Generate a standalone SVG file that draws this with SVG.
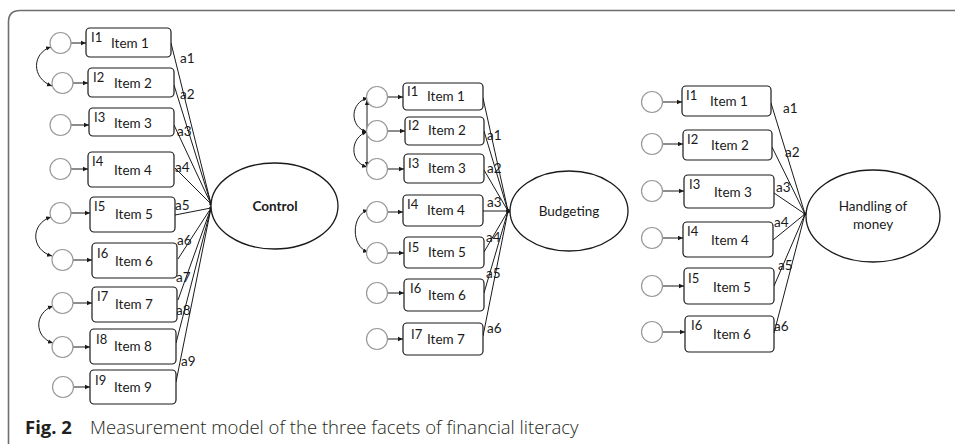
<svg xmlns="http://www.w3.org/2000/svg" width="955" height="444" viewBox="0 0 955 444">
<style>
.box{fill:#fff;stroke:#1a1a1a;stroke-width:1.2}
.err{fill:#fff;stroke:#999;stroke-width:1.2}
.lat{fill:#fff;stroke:#1a1a1a;stroke-width:1.3}
.ln{fill:none;stroke:#1a1a1a;stroke-width:1}
.t{font-family:Lato,"Liberation Sans",sans-serif;font-size:13.5px;fill:#1a1a1a}
.s{font-family:Lato,"Liberation Sans",sans-serif;font-size:13px;fill:#1a1a1a}
.m{text-anchor:middle}
.cap{font-family:"Open Sans","Liberation Sans",sans-serif;font-size:18.5px;fill:#231f20}
</style>
<defs>
<marker id="ah" markerUnits="userSpaceOnUse" markerWidth="6" markerHeight="6" refX="5" refY="3" orient="auto-start-reverse"><path d="M0,0.8 L5,3 L0,5.2 z" fill="#1a1a1a"/></marker>
</defs>
<path d="M8.5,444 V22 Q8.5,10.5 20,10.5 H955" fill="none" stroke="#6e6e6e" stroke-width="1.6"/>

<g id="connectors">
<path class="ln" marker-end="url(#ah)" d="M71,43 H86"/>
<path class="ln" marker-end="url(#ah)" d="M73,83 H88"/>
<path class="ln" marker-end="url(#ah)" d="M71,125 H89"/>
<path class="ln" marker-end="url(#ah)" d="M71,169 H88"/>
<path class="ln" marker-end="url(#ah)" d="M71,213 H90"/>
<path class="ln" marker-end="url(#ah)" d="M73,260 H92"/>
<path class="ln" marker-end="url(#ah)" d="M73,303 H92"/>
<path class="ln" marker-end="url(#ah)" d="M73,347 H90"/>
<path class="ln" marker-end="url(#ah)" d="M73,387 H90"/>
<path class="ln" marker-start="url(#ah)" marker-end="url(#ah)" d="M51,47 C32,53 31,78 52,86"/>
<path class="ln" marker-start="url(#ah)" marker-end="url(#ah)" d="M51,217 C30,224 31,250 52,256"/>
<path class="ln" marker-start="url(#ah)" marker-end="url(#ah)" d="M53,306 C34,313 34,337 53,343"/>
<path class="ln" d="M171,43 L211,204"/>
<path class="ln" d="M174,85 L211,204"/>
<path class="ln" d="M174,125 L211,204"/>
<path class="ln" d="M175,168 L211,204"/>
<path class="ln" d="M175,215 L211,208"/>
<path class="ln" d="M178,259 L211,208"/>
<path class="ln" d="M178,300 L211,208"/>
<path class="ln" d="M176,343 L211,208"/>
<path class="ln" d="M176,382 L211,208"/>
<circle cx="211" cy="204" r="1.8" fill="#1a1a1a"/>
<circle cx="211" cy="208" r="1.8" fill="#1a1a1a"/>
<text class="t" x="180" y="63">a1</text>
<text class="t" x="180" y="99">a2</text>
<text class="t" x="177" y="136">a3</text>
<text class="t" x="175" y="172">a4</text>
<text class="t" x="175" y="210">a5</text>
<text class="t" x="177" y="245">a6</text>
<text class="t" x="176" y="282">a7</text>
<text class="t" x="176" y="315">a8</text>
<text class="t" x="181" y="366">a9</text>

<path class="ln" marker-end="url(#ah)" d="M387.5,97 H403"/>
<path class="ln" marker-end="url(#ah)" d="M387.5,131 H405"/>
<path class="ln" marker-end="url(#ah)" d="M387.5,169 H404"/>
<path class="ln" marker-end="url(#ah)" d="M387.5,212 H403"/>
<path class="ln" marker-end="url(#ah)" d="M387.5,253 H404"/>
<path class="ln" marker-end="url(#ah)" d="M387.5,293 H404"/>
<path class="ln" marker-end="url(#ah)" d="M387.5,339 H403"/>
<path class="ln" marker-start="url(#ah)" marker-end="url(#ah)" d="M368,98 C350,102 349,127 367,132"/>
<path class="ln" marker-start="url(#ah)" marker-end="url(#ah)" d="M367,132 C350,137 349,162 367,167"/>
<path class="ln" marker-start="url(#ah)" marker-end="url(#ah)" d="M367,100 V167"/>
<path class="ln" marker-start="url(#ah)" marker-end="url(#ah)" d="M368,210 C351,215 351,247 368,252"/>
<path class="ln" d="M483,98 L508,211"/>
<path class="ln" d="M484,131 L508,211"/>
<path class="ln" d="M484,170 L508,211"/>
<path class="ln" d="M483,211 L508,211"/>
<path class="ln" d="M484,252 L508,211"/>
<path class="ln" d="M484,293 L508,211"/>
<path class="ln" d="M483,336 L508,211"/>
<circle cx="508" cy="211" r="2.2" fill="#1a1a1a"/>
<text class="t" x="487" y="140">a1</text>
<text class="t" x="487" y="173">a2</text>
<text class="t" x="487" y="207">a3</text>
<text class="t" x="486" y="242">a4</text>
<text class="t" x="486" y="278">a5</text>
<text class="t" x="487" y="333">a6</text>

<path class="ln" marker-end="url(#ah)" d="M662.5,102 H682"/>
<path class="ln" marker-end="url(#ah)" d="M662.5,144 H683"/>
<path class="ln" marker-end="url(#ah)" d="M662.5,191 H684"/>
<path class="ln" marker-end="url(#ah)" d="M662.5,238 H683"/>
<path class="ln" marker-end="url(#ah)" d="M662.5,286 H684"/>
<path class="ln" marker-end="url(#ah)" d="M662.5,332 H685"/>
<path class="ln" d="M771,103 L805,214"/>
<path class="ln" d="M772,147 L805,214"/>
<path class="ln" d="M774,193 L805,214"/>
<path class="ln" d="M773,240 L805,214"/>
<path class="ln" d="M774,286 L805,214"/>
<path class="ln" d="M774,333 L805,214"/>
<circle cx="805" cy="214" r="1.8" fill="#1a1a1a"/>
<text class="t" x="783" y="113">a1</text>
<text class="t" x="785" y="157">a2</text>
<text class="t" x="776" y="192">a3</text>
<text class="t" x="774" y="227">a4</text>
<text class="t" x="778" y="270">a5</text>
<text class="t" x="774" y="331">a6</text>
</g>

<g id="c-e1"><circle class="err" cx="60.5" cy="43" r="10.5"/></g>
<g id="c-e2"><circle class="err" cx="62.5" cy="83" r="10.5"/></g>
<g id="c-e3"><circle class="err" cx="60.5" cy="125" r="10.5"/></g>
<g id="c-e4"><circle class="err" cx="60.5" cy="169" r="10.5"/></g>
<g id="c-e5"><circle class="err" cx="60.5" cy="213" r="10.5"/></g>
<g id="c-e6"><circle class="err" cx="62.5" cy="260" r="10.5"/></g>
<g id="c-e7"><circle class="err" cx="62.5" cy="303" r="10.5"/></g>
<g id="c-e8"><circle class="err" cx="62.5" cy="347" r="10.5"/></g>
<g id="c-e9"><circle class="err" cx="63" cy="387" r="10.5"/></g>
<g id="c-i1"><rect class="box" x="86" y="28" width="85" height="29" rx="4"/><text class="s" x="91" y="42">I1</text><text class="t m" x="130" y="48">Item 1</text></g>
<g id="c-i2"><rect class="box" x="88" y="68" width="86" height="29" rx="4"/><text class="s" x="93" y="82">I2</text><text class="t m" x="133" y="88">Item 2</text></g>
<g id="c-i3"><rect class="box" x="89" y="108" width="85" height="28" rx="4"/><text class="s" x="94" y="122">I3</text><text class="t m" x="133" y="128">Item 3</text></g>
<g id="c-i4"><rect class="box" x="88" y="152" width="86" height="35" rx="4"/><text class="s" x="92" y="166">I4</text><text class="t m" x="133" y="175">Item 4</text></g>
<g id="c-i5"><rect class="box" x="90" y="197" width="85" height="35" rx="4"/><text class="s" x="94" y="211">I5</text><text class="t m" x="134" y="219">Item 5</text></g>
<g id="c-i6"><rect class="box" x="92" y="243" width="85" height="35" rx="4"/><text class="s" x="97" y="258">I6</text><text class="t m" x="134" y="266">Item 6</text></g>
<g id="c-i7"><rect class="box" x="92" y="287" width="85" height="35" rx="4"/><text class="s" x="97" y="301">I7</text><text class="t m" x="134" y="309">Item 7</text></g>
<g id="c-i8"><rect class="box" x="90" y="329" width="86" height="35" rx="4"/><text class="s" x="96" y="344">I8</text><text class="t m" x="133" y="351">Item 8</text></g>
<g id="c-i9"><rect class="box" x="90" y="370" width="86" height="34" rx="4"/><text class="s" x="95" y="385">I9</text><text class="t m" x="133" y="392">Item 9</text></g>
<g id="control"><ellipse class="lat" cx="274.5" cy="206" rx="63.5" ry="43"/><text class="t m" x="275" y="211" font-weight="bold">Control</text></g>

<g id="b-e1"><circle class="err" cx="377" cy="97" r="10.5"/></g>
<g id="b-e2"><circle class="err" cx="377" cy="131" r="10.5"/></g>
<g id="b-e3"><circle class="err" cx="377" cy="169" r="10.5"/></g>
<g id="b-e4"><circle class="err" cx="377" cy="212" r="10.5"/></g>
<g id="b-e5"><circle class="err" cx="377" cy="253" r="10.5"/></g>
<g id="b-e6"><circle class="err" cx="377" cy="293" r="10.5"/></g>
<g id="b-e7"><circle class="err" cx="377" cy="339" r="10.5"/></g>
<g id="b-i1"><rect class="box" x="403" y="83" width="80" height="27" rx="4"/><text class="s" x="407" y="96">I1</text><text class="t m" x="446" y="101">Item 1</text></g>
<g id="b-i2"><rect class="box" x="405" y="117" width="79" height="28" rx="4"/><text class="s" x="408" y="130">I2</text><text class="t m" x="447" y="135">Item 2</text></g>
<g id="b-i3"><rect class="box" x="404" y="154" width="80" height="29" rx="4"/><text class="s" x="408" y="168">I3</text><text class="t m" x="447" y="173">Item 3</text></g>
<g id="b-i4"><rect class="box" x="403" y="195" width="80" height="31" rx="4"/><text class="s" x="407" y="209">I4</text><text class="t m" x="446" y="215">Item 4</text></g>
<g id="b-i5"><rect class="box" x="404" y="237" width="80" height="31" rx="4"/><text class="s" x="408" y="252">I5</text><text class="t m" x="447" y="257">Item 5</text></g>
<g id="b-i6"><rect class="box" x="404" y="279" width="80" height="32" rx="4"/><text class="s" x="410" y="293">I6</text><text class="t m" x="447" y="300">Item 6</text></g>
<g id="b-i7"><rect class="box" x="403" y="323" width="80" height="32" rx="4"/><text class="s" x="411" y="339">I7</text><text class="t m" x="446" y="344">Item 7</text></g>
<g id="budgeting"><ellipse class="lat" cx="569" cy="211" rx="59" ry="40"/><text class="t m" x="569" y="216">Budgeting</text></g>

<g id="h-e1"><circle class="err" cx="652" cy="102" r="10.5"/></g>
<g id="h-e2"><circle class="err" cx="652" cy="144" r="10.5"/></g>
<g id="h-e3"><circle class="err" cx="652" cy="191" r="10.5"/></g>
<g id="h-e4"><circle class="err" cx="652" cy="238" r="10.5"/></g>
<g id="h-e5"><circle class="err" cx="652" cy="286" r="10.5"/></g>
<g id="h-e6"><circle class="err" cx="652" cy="332" r="10.5"/></g>
<g id="h-i1"><rect class="box" x="682" y="86" width="89" height="30" rx="4"/><text class="s" x="686" y="100">I1</text><text class="t m" x="729" y="106">Item 1</text></g>
<g id="h-i2"><rect class="box" x="683" y="130" width="89" height="30" rx="4"/><text class="s" x="687" y="144">I2</text><text class="t m" x="730" y="150">Item 2</text></g>
<g id="h-i3"><rect class="box" x="684" y="175" width="90" height="33" rx="4"/><text class="s" x="689" y="189">I3</text><text class="t m" x="733" y="197">Item 3</text></g>
<g id="h-i4"><rect class="box" x="683" y="222" width="90" height="35" rx="4"/><text class="s" x="687" y="236">I4</text><text class="t m" x="730" y="245">Item 4</text></g>
<g id="h-i5"><rect class="box" x="684" y="268" width="90" height="36" rx="4"/><text class="s" x="688" y="283">I5</text><text class="t m" x="732" y="292">Item 5</text></g>
<g id="h-i6"><rect class="box" x="685" y="316" width="89" height="36" rx="4"/><text class="s" x="691" y="330">I6</text><text class="t m" x="732" y="339">Item 6</text></g>
<g id="handling"><ellipse class="lat" cx="873" cy="216" rx="67" ry="46"/><text class="t m" x="873" y="211">Handling of</text><text class="t m" x="873" y="229">money</text></g>

<text class="cap" x="25" y="434"><tspan font-weight="bold">Fig. 2</tspan><tspan x="90" font-weight="300">Measurement model of the three facets of financial literacy</tspan></text>
</svg>
